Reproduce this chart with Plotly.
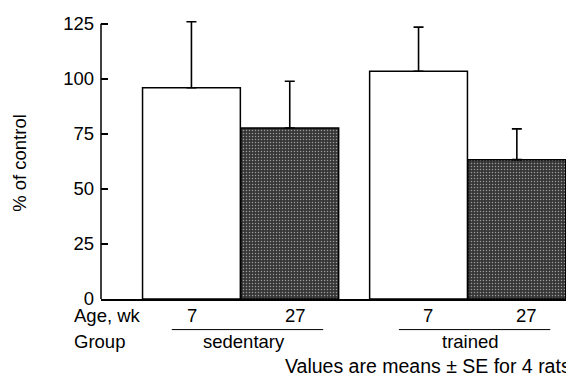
import plotly.graph_objects as go

groups = ["sedentary", "trained"]
ages = ["7", "27"]
means = [96, 77.7, 103.5, 63.3]
se = [30, 21.2, 20, 14]
fills = ["white", "#363636", "white", "#363636"]
patterns = ["", ".", "", "."]
y_ticks = [0, 25, 50, 75, 100, 125]
footnote = "Values are means \u00b1 SE for 4 rats"

GAP = 2.31
xpos = []
for gi, g in enumerate(groups):
    for ai, a in enumerate(ages):
        xpos.append(gi * GAP + ai)

FONT = "Liberation Sans, Arial, sans-serif"
FS = 18.5
Y_TOP = 126.3  # a little headroom so the tallest error cap is not clipped

fig = go.Figure()
fig.add_trace(go.Bar(
    x=xpos, y=means, width=0.995,
    marker=dict(color=fills, line=dict(color="black", width=1.5),
                pattern=dict(shape=patterns, fgcolor="#555555", size=3, solidity=0.2)),
    error_y=dict(type="data", symmetric=False, array=se, arrayminus=[0]*4,
                 color="black", thickness=1.6, width=5),
    showlegend=False, hoverinfo="skip",
))

ann = []
shapes = []
ann.append(dict(text="Age, wk", x=-0.0624, y=-0.058, xref="paper", yref="paper",
                xanchor="left", yanchor="middle", showarrow=False))
ann.append(dict(text="Group", x=-0.0624, y=-0.152, xref="paper", yref="paper",
                xanchor="left", yanchor="middle", showarrow=False))
age_shift = [1, 6, 9, 10]
for i, x in enumerate(xpos):
    ann.append(dict(text=ages[i % 2], x=x, xshift=age_shift[i], y=-0.058, xref="x", yref="paper",
                    xanchor="center", yanchor="middle", showarrow=False))
for gi, g in enumerate(groups):
    c = gi * GAP + 0.5
    shapes.append(dict(type="line", xref="x", yref="paper", x0=c - 0.7, x1=c + 0.84,
                       y0=-0.11, y1=-0.11, line=dict(color="black", width=1)))
    ann.append(dict(text=g, x=c + 0.03, y=-0.152, xref="x", yref="paper",
                    xanchor="center", yanchor="middle", showarrow=False))
# y axis line from 0 up to the top tick
shapes.append(dict(type="line", xref="paper", yref="y", x0=0, x1=0,
                   y0=0, y1=max(y_ticks), line=dict(color="black", width=1.5)))
ann.append(dict(text=footnote, x=1.015, y=-0.24, xref="paper", yref="paper",
                xanchor="right", yanchor="middle", showarrow=False,
                font=dict(size=19.5)))
ann.append(dict(text="% of control", x=-0.174, y=0.49, xref="paper", yref="paper",
                textangle=-90, xanchor="center", yanchor="middle", showarrow=False))

# page body has an 8px margin, so the figure is sized and offset to compensate
fig.update_layout(
    width=566, height=373,
    margin=dict(l=93, r=8, t=5, b=82),
    paper_bgcolor="white", plot_bgcolor="white",
    font=dict(family=FONT, size=FS, color="black"),
    annotations=ann, shapes=shapes,
    xaxis=dict(range=[-0.92, 3.81], showticklabels=False, ticks="", showgrid=False,
               zeroline=False, showline=True, linecolor="black", linewidth=1.5),
    yaxis=dict(range=[0, Y_TOP], tickvals=y_ticks, ticks="inside", ticklen=7,
               tickwidth=1.5, tickcolor="black", showgrid=False, zeroline=False,
               showline=False, ticklabeloverflow="allow", ticklabelstandoff=6,
               tickfont=dict(family=FONT, size=FS)),
)

fig.write_html("out.html")
